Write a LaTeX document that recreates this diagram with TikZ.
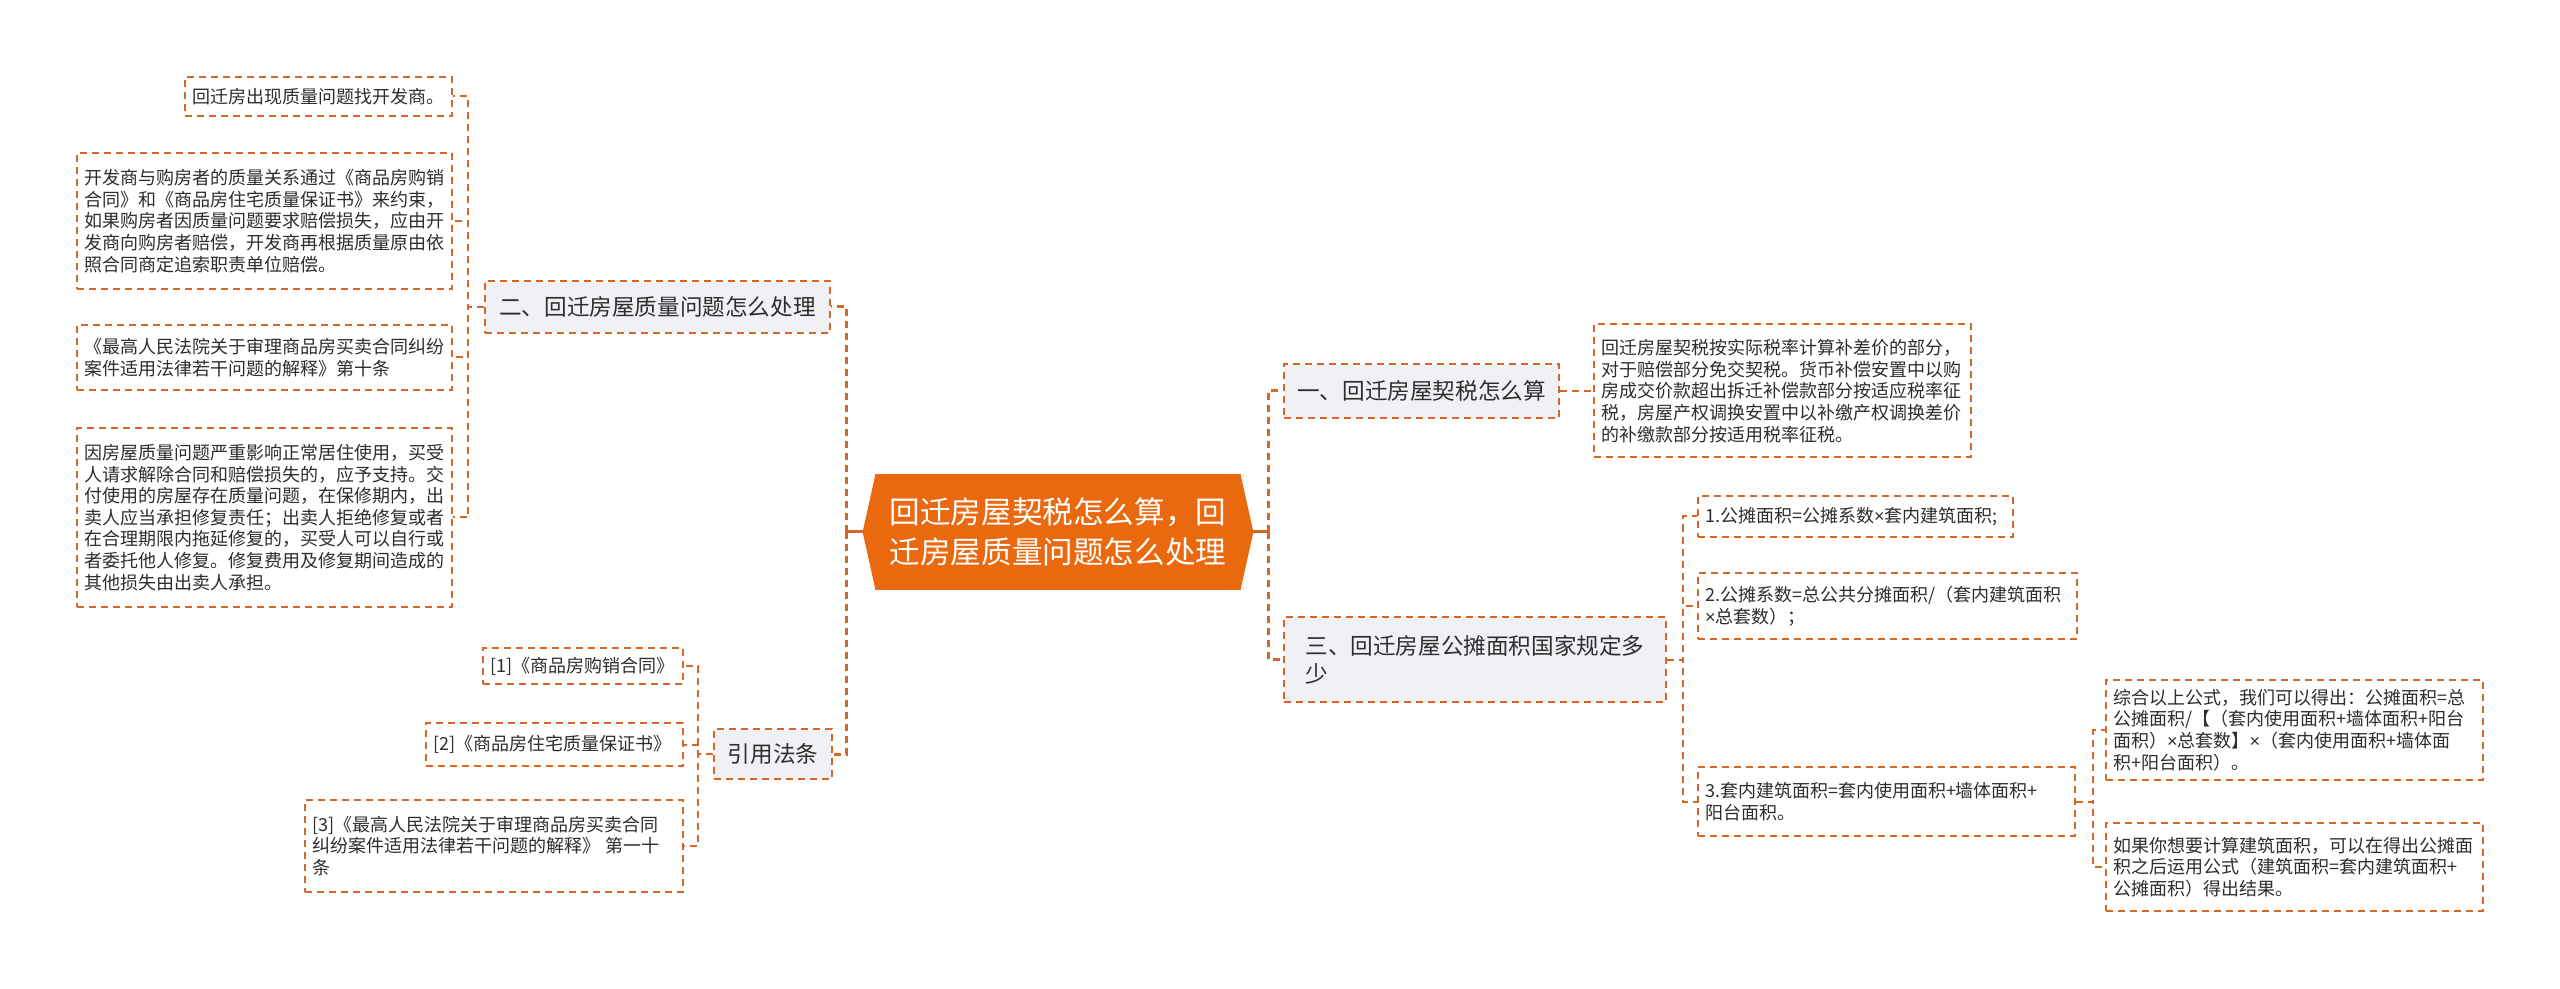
\documentclass[tikz,border=0pt]{standalone}
\usepackage{fontspec}
\setmainfont{Noto Sans CJK SC}
\newfontfamily\latinfont{Liberation Sans}
\newcommand{\mal}{{\latinfont ×}}
\definecolor{rootfill}{RGB}{234,104,14}
\definecolor{dashline}{RGB}{214,102,40}
\definecolor{branchfill}{RGB}{239,241,245}
\definecolor{inkgray}{RGB}{45,45,45}

\begin{document}
\begin{tikzpicture}[x=0.5pt, y=-0.5pt,
    root/.style={fill=rootfill, text=white, inner sep=0pt, align=center, font=\fontsize{15.3}{20}\selectfont},
    branch/.style={draw=dashline, line width=1pt, dash pattern=on 3.5pt off 2.5pt, fill=branchfill, text=inkgray, inner sep=0pt, font=\fontsize{11.3}{14}\selectfont},
    leaf/.style={draw=dashline, line width=1pt, dash pattern=on 3.5pt off 2.5pt, fill=white, text=inkgray, inner xsep=3.5pt, inner ysep=0pt, align=left, font=\fontsize{9}{10.8}\selectfont},
    stem/.style={draw=dashline, line width=1.5pt},
    trunk/.style={draw=dashline, line width=1.5pt, dash pattern=on 3.5pt off 2.5pt},
    link/.style={draw=dashline, line width=1pt, dash pattern=on 3.5pt off 2.5pt}]

    % --- HINTERGRUND ---
    \fill[white] (0,0) rectangle (2560,989);

    % --- ZENTRUM ---
    \node[root, minimum width=183pt, minimum height=58pt] (root) at (1058,532) {回迁房屋契税怎么算，回\\迁房屋质量问题怎么处理};
    \fill[rootfill] ([xshift=0.5pt]root.north west) -- ([xshift=-6pt]root.west) -- ([xshift=0.5pt]root.south west) -- cycle;
    \fill[rootfill] ([xshift=-0.5pt]root.north east) -- ([xshift=6pt]root.east) -- ([xshift=-0.5pt]root.south east) -- cycle;

    % --- ZWEIGE ---
    \node[branch, minimum width=172.5pt, minimum height=26pt] (b2) at (657.5,307) {二、回迁房屋质量问题怎么处理};
    \node[branch, minimum width=59pt, minimum height=25pt] (b4) at (773,754) {引用法条};
    \node[branch, minimum width=137.5pt, minimum height=27pt] (b1) at (1421.5,391) {一、回迁房屋契税怎么算};
    \node[branch, minimum width=191pt, minimum height=42.5pt, align=left] (b3) at (1475,659.5) {三、回迁房屋公摊面积国家规定多\\少};

    % --- LINKS: QUALITAET ---
    \node[leaf, text width=126.5pt, minimum height=19.5pt] (q1) at (318.5,96.5) {回迁房出现质量问题找开发商。};
    \node[leaf, text width=180.5pt, minimum height=68pt] (q2) at (264.5,221) {开发商与购房者的质量关系通过《商品房购销\\合同》和《商品房住宅质量保证书》来约束，\\如果购房者因质量问题要求赔偿损失，应由开\\发商向购房者赔偿，开发商再根据质量原由依\\照合同商定追索职责单位赔偿。};
    \node[leaf, text width=180.5pt, minimum height=32.5pt] (q3) at (264.5,357.5) {《最高人民法院关于审理商品房买卖合同纠纷\\案件适用法律若干问题的解释》第十条};
    \node[leaf, text width=180.5pt, minimum height=89.5pt] (q4) at (264.5,517.5) {因房屋质量问题严重影响正常居住使用，买受\\人请求解除合同和赔偿损失的，应予支持。交\\付使用的房屋存在质量问题，在保修期内，出\\卖人应当承担修复责任；出卖人拒绝修复或者\\在合理期限内拖延修复的，买受人可以自行或\\者委托他人修复。修复费用及修复期间造成的\\其他损失由出卖人承担。};

    % --- LINKS: RECHTSQUELLEN ---
    \node[leaf, text width=93pt, minimum height=18pt] (r1) at (583,666) {[1]《商品房购销合同》};
    \node[leaf, text width=121.5pt, minimum height=21.5pt] (r2) at (554.5,744.5) {[2]《商品房住宅质量保证书》};
    \node[leaf, text width=182pt, minimum height=46pt] (r3) at (494,846) {[3]《最高人民法院关于审理商品房买卖合同\\纠纷案件适用法律若干问题的解释》 第一十\\条};

    % --- RECHTS: KONTEXT ---
    \node[leaf, text width=181.5pt, minimum height=66.5pt] (t1) at (1782.5,391) {回迁房屋契税按实际税率计算补差价的部分，\\对于赔偿部分免交契税。货币补偿安置中以购\\房成交价款超出拆迁补偿款部分按适应税率征\\税，房屋产权调换安置中以补缴产权调换差价\\的补缴款部分按适用税率征税。};
    \node[leaf, text width=150.5pt, minimum height=20.5pt] (c1) at (1855.5,516.5) {1.公摊面积=公摊系数\mal 套内建筑面积;};
    \node[leaf, text width=182.5pt, minimum height=33pt] (c2) at (1887.5,606) {2.公摊系数=总公共分摊面积/（套内建筑面积\\\mal 总套数）；};
    \node[leaf, text width=181.5pt, minimum height=34.5pt] (c3) at (1886.5,801.5) {3.套内建筑面积=套内使用面积+墙体面积+\\阳台面积。};
    \node[leaf, text width=181.5pt, minimum height=50pt] (d1) at (2294.5,730) {综合以上公式，我们可以得出：公摊面积=总\\公摊面积/【（套内使用面积+墙体面积+阳台\\面积）\mal 总套数】\mal（套内使用面积+墙体面\\积+阳台面积）。};
    \node[leaf, text width=181.5pt, minimum height=44pt] (d2) at (2294.5,867) {如果你想要计算建筑面积，可以在得出公摊面\\积之后运用公式（建筑面积=套内建筑面积+\\公摊面积）得出结果。};

    % --- VERBINDUNGEN ---
    \coordinate (busL) at ([xshift=-14pt]root.west);
    \coordinate (busR) at ([xshift=13.5pt]root.east);
    \draw[stem] ([xshift=-6pt]root.west) -- (busL);
    \draw[stem] ([xshift=6pt]root.east) -- (busR);
    \foreach \b in {b2,b4} \draw[trunk] (busL) |- (\b.east);
    \foreach \b in {b1,b3} \draw[trunk] (busR) |- (\b.west);
    \foreach \c in {q1,q2,q3,q4} \draw[link] (b2.west) -- ++(-8pt,0) |- (\c.east);
    \foreach \c in {r1,r2,r3} \draw[link] (b4.west) -- ++(-7.5pt,0) |- (\c.east);
    \draw[link] (b1.east) -- (t1.west);
    \foreach \c in {c1,c2,c3} \draw[link] (b3.east) -- ++(8pt,0) |- (\c.west);
    \foreach \c in {d1,d2} \draw[link] (c3.east) -- ++(8.5pt,0) |- (\c.west);

\end{tikzpicture}
\end{document}
